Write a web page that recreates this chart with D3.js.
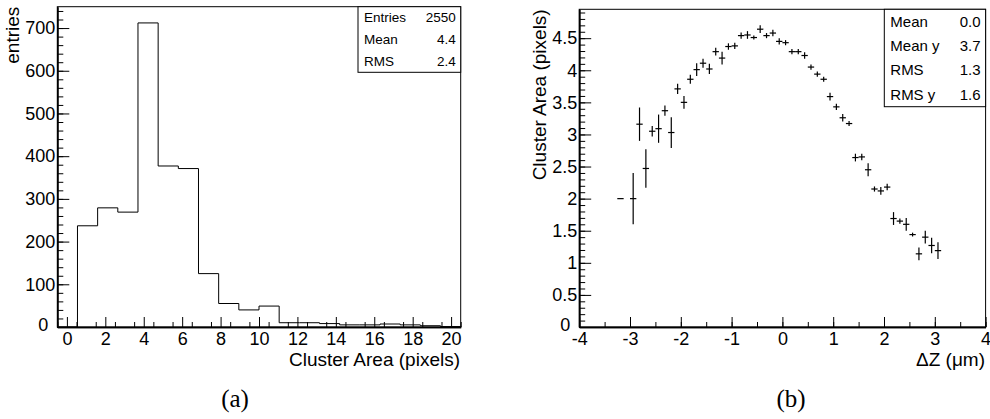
<!DOCTYPE html>
<html>
<head>
<meta charset="utf-8">
<script src="https://cdn.jsdelivr.net/npm/d3@7"></script>
<style>
body { margin: 0; background: #fff; }
text { font-family: "Liberation Sans", Arial, sans-serif; fill: #000; }
.caption { font-family: "Liberation Serif", "DejaVu Serif", serif; }
</style>
</head>
<body>
<script>

// (a) cluster area histogram: 20 bins on [-0.5, 20.5]
const areaRange = [-0.5, 20.5];
const areaCounts = [0, 237, 279, 269, 712, 377, 371, 125, 55, 40, 49, 10, 10, 8, 5, 5, 7, 5, 3, 1];
const areaXTicks = [0, 2, 4, 6, 8, 10, 12, 14, 16, 18, 20];
const areaYTicks = [0, 100, 200, 300, 400, 500, 600, 700];
const areaStats = [["Entries", "2550"], ["Mean", "4.4"], ["RMS", "2.4"]];

// (b) cluster area vs dZ profile
const dzCenters = [-3.1875, -2.9375, -2.8125, -2.6875, -2.5625, -2.4375, -2.3125, -2.1875, -2.0625, -1.9375,
	-1.8125, -1.6875, -1.5625, -1.4375, -1.3125, -1.1875, -1.0625, -0.9375, -0.8125, -0.6875,
	-0.5625, -0.4375, -0.3125, -0.1875, -0.0625, 0.0625, 0.1875, 0.3125, 0.4375, 0.5625,
	0.6875, 0.8125, 0.9375, 1.0625, 1.1875, 1.3125, 1.4375, 1.5625, 1.6875, 1.8125,
	1.9375, 2.0625, 2.1875, 2.3125, 2.4375, 2.5625, 2.6875, 2.8125, 2.9375, 3.0625];
const dzArea = [2.0, 2.0, 3.16, 2.47, 3.05, 3.09, 3.37, 3.03, 3.71, 3.50,
	3.86, 4.01, 4.11, 4.02, 4.29, 4.19, 4.37, 4.38, 4.54, 4.55,
	4.51, 4.64, 4.54, 4.58, 4.45, 4.43, 4.29, 4.29, 4.23, 4.05,
	3.94, 3.86, 3.59, 3.43, 3.26, 3.17, 2.64, 2.65, 2.45, 2.15,
	2.12, 2.18, 1.69, 1.65, 1.60, 1.44, 1.14, 1.40, 1.27, 1.19];
const dzErr = [0, 0.40, 0.26, 0.30, 0.08, 0.22, 0.08, 0.24, 0.08, 0.10,
	0.07, 0.10, 0.07, 0.08, 0.06, 0.10, 0.05, 0.05, 0.05, 0.06,
	0.03, 0.06, 0.04, 0.05, 0.05, 0.04, 0.04, 0.04, 0.05, 0.04,
	0.04, 0.04, 0.06, 0.05, 0.06, 0.04, 0.06, 0.05, 0.10, 0.04,
	0.06, 0.05, 0.10, 0.04, 0.10, 0.03, 0.10, 0.10, 0.12, 0.13];
const dzHalfWidth = 0.0625;
const dzXTicks = [-4, -3, -2, -1, 0, 1, 2, 3, 4];
const dzYTicks = [0, 0.5, 1, 1.5, 2, 2.5, 3, 3.5, 4, 4.5];
const dzStats = [["Mean", "0.0"], ["Mean y", "3.7"], ["RMS", "1.3"], ["RMS y", "1.6"]];

let svg = d3.select("body").append("svg")
	.attr("width", 990)
	.attr("height", 419);

// plain hyphen for negatives, like the original
let plain = function (d) { return String(d); };

// draws ROOT-like inward ticks on a frame
function drawAxes(g, x, y, xMajor, xMinorStep, yMajor, yMinorStep) {
	let [x0, x1] = x.range(), [y0, y1] = y.range();
	let xMinor = d3.range(x.domain()[0], x.domain()[1] + 1e-9, xMinorStep);
	let yMinor = d3.range(y.domain()[0], y.domain()[1] + 1e-9, yMinorStep);

	g.append("g")
		.attr("transform", "translate(0," + y0 + ")")
		.call(d3.axisBottom(x).tickValues(xMinor).tickSize(-5).tickSizeOuter(0).tickFormat(""));
	g.append("g")
		.attr("class", "x-axis")
		.attr("transform", "translate(0," + y0 + ")")
		.call(d3.axisBottom(x).tickValues(xMajor).tickSize(-10).tickSizeOuter(0).tickPadding(5).tickFormat(plain));
	g.append("g")
		.attr("transform", "translate(" + x0 + ",0)")
		.call(d3.axisLeft(y).tickValues(yMinor).tickSize(-6).tickSizeOuter(0).tickFormat(""));
	let ya = g.append("g")
		.attr("class", "y-axis")
		.attr("transform", "translate(" + x0 + ",0)")
		.call(d3.axisLeft(y).tickValues(yMajor).tickSize(-12).tickSizeOuter(0).tickPadding(2).tickFormat(plain));

	g.selectAll(".tick line").attr("stroke", "#000");
	g.selectAll(".domain").attr("stroke", "#000").attr("stroke-width", 1.5);
	g.selectAll(".tick text").attr("font-size", 18).attr("font-family", "Liberation Sans, Arial, sans-serif");

	// the zero label sits a little lower and left, away from the x labels
	ya.selectAll(".tick text").filter(function (d) { return d === 0; })
		.attr("x", -9).attr("dy", "0.2em");

	// frame
	g.append("rect")
		.attr("x", x0).attr("y", y1)
		.attr("width", x1 - x0).attr("height", y0 - y1)
		.attr("fill", "none").attr("stroke", "#000");
}

function statsBox(g, rows, left, top, right, bottom, fontSize) {
	let rowH = (bottom - top) / rows.length;
	g.append("rect")
		.attr("x", left).attr("y", top)
		.attr("width", right - left).attr("height", bottom - top)
		.attr("fill", "#fff").attr("stroke", "#000");
	rows.forEach(function (r, i) {
		let cy = top + rowH * (i + 0.5);
		g.append("text").attr("x", left + 6).attr("y", cy).attr("dy", "0.35em")
			.attr("font-size", fontSize).text(r[0]);
		g.append("text").attr("x", right - 5).attr("y", cy).attr("dy", "0.35em")
			.attr("font-size", fontSize).attr("text-anchor", "end").text(r[1]);
	});
}

// ---- panel (a)
let gA = svg.append("g");
let xA = d3.scaleLinear().domain(areaRange).range([57.3, 460.7]);
let yA = d3.scaleLinear().domain([0, 750]).range([327, 6.7]);
let binW = (areaRange[1] - areaRange[0]) / areaCounts.length;

let histPts = [[areaRange[0], 0]];
areaCounts.forEach(function (c, i) {
	histPts.push([areaRange[0] + i * binW, c]);
	histPts.push([areaRange[0] + (i + 1) * binW, c]);
});
histPts.push([areaRange[1], 0]);

gA.append("path")
	.datum(histPts)
	.attr("fill", "none")
	.attr("stroke", "#000")
	.attr("d", d3.line().x(function (d) { return xA(d[0]); }).y(function (d) { return yA(d[1]); }));

drawAxes(gA, xA, yA, areaXTicks, 1, areaYTicks, 20);
statsBox(gA, areaStats, 358, 6.7, 460.7, 72.3, 13.5);

gA.append("text")
	.attr("x", 460).attr("y", 366)
	.attr("font-size", 19).attr("text-anchor", "end")
	.text("Cluster Area (pixels)");
gA.append("text")
	.attr("transform", "translate(19,6.7) rotate(-90)")
	.attr("font-size", 19).attr("text-anchor", "end")
	.text("entries");
gA.append("text")
	.attr("class", "caption")
	.attr("x", 235).attr("y", 407)
	.attr("font-size", 25).attr("text-anchor", "middle")
	.text("(a)");

// ---- panel (b)
let gB = svg.append("g");
let xB = d3.scaleLinear().domain([-4, 4]).range([579.2, 985.6]);
let yB = d3.scaleLinear().domain([0, 4.95]).range([327, 9.3]);

drawAxes(gB, xB, yB, dzXTicks, 0.5, dzYTicks, 0.1);

let pts = gB.append("g").attr("stroke", "#000").attr("stroke-width", 1.2);
dzCenters.forEach(function (c, i) {
	pts.append("line")
		.attr("x1", xB(c - dzHalfWidth)).attr("x2", xB(c + dzHalfWidth))
		.attr("y1", yB(dzArea[i])).attr("y2", yB(dzArea[i]));
	if (dzErr[i] > 0) {
		pts.append("line")
			.attr("x1", xB(c)).attr("x2", xB(c))
			.attr("y1", yB(dzArea[i] - dzErr[i])).attr("y2", yB(dzArea[i] + dzErr[i]));
	}
});

statsBox(gB, dzStats, 884.3, 9.3, 985.6, 106.7, 15);

gB.append("text")
	.attr("x", 985).attr("y", 366)
	.attr("font-size", 19).attr("text-anchor", "end")
	.text("ΔZ (μm)");
gB.append("text")
	.attr("transform", "translate(546,9.3) rotate(-90)")
	.attr("font-size", 19).attr("text-anchor", "end")
	.text("Cluster Area (pixels)");
gB.append("text")
	.attr("class", "caption")
	.attr("x", 791).attr("y", 407)
	.attr("font-size", 25).attr("text-anchor", "middle")
	.text("(b)");

</script>
</body>
</html>
